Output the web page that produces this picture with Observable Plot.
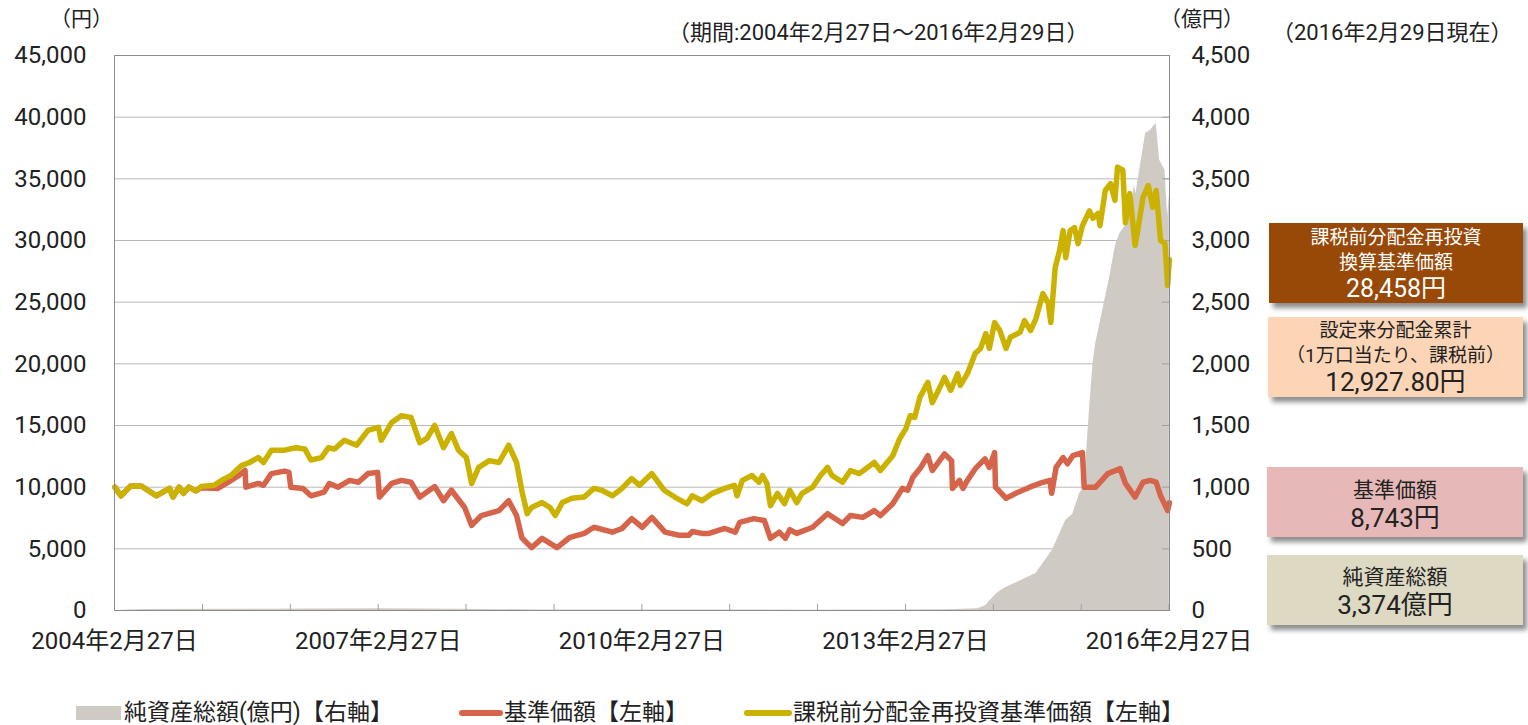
<!DOCTYPE html>
<html><head><meta charset="utf-8">
<script src="https://cdn.jsdelivr.net/npm/d3@7"></script>
<script src="https://cdn.jsdelivr.net/npm/@observablehq/plot@0.6"></script>
<style>
body{margin:0;background:#fff;}
#wrap{position:relative;width:1528px;height:725px;overflow:hidden;font-family:Roboto,"Noto Sans CJK JP",sans-serif;color:#222;}
.lbl{position:absolute;white-space:nowrap;line-height:1.2;transform:translateY(-50%);}
.box{position:absolute;text-align:center;box-shadow:4px 5px 5px rgba(0,0,0,0.45);}
.box div{white-space:nowrap;}
.leg{position:absolute;top:713px;transform:translateY(-50%);font-size:23px;white-space:nowrap;line-height:1.2;}
.sw{position:absolute;}
</style></head>
<body><div id="wrap"></div>
<script>
// 課税前分配金再投資基準価額 [decimal year, 円]
const reinvest = [[2004.16,10000],[2004.23,9300],[2004.34,10100],[2004.46,10100],[2004.63,9300],[2004.78,9900],[2004.82,9200],[2004.89,10000],[2004.94,9500],[2005.00,10000],[2005.08,9700],[2005.14,10050],[2005.29,10150],[2005.37,10550],[2005.48,10950],[2005.60,11750],[2005.69,12000],[2005.79,12400],[2005.85,12000],[2005.94,13000],[2006.09,13000],[2006.22,13200],[2006.32,13100],[2006.39,12200],[2006.51,12400],[2006.59,13200],[2006.66,13100],[2006.77,13800],[2006.91,13400],[2007.04,14600],[2007.16,14850],[2007.19,13800],[2007.31,15250],[2007.42,15800],[2007.53,15650],[2007.63,13600],[2007.71,13950],[2007.80,15000],[2007.90,13200],[2007.99,14350],[2008.07,13000],[2008.16,12400],[2008.22,10300],[2008.30,11600],[2008.42,12150],[2008.53,12000],[2008.64,13400],[2008.73,12000],[2008.79,9700],[2008.85,7850],[2008.90,8350],[2009.02,8750],[2009.11,8350],[2009.17,7700],[2009.25,8750],[2009.36,9100],[2009.50,9200],[2009.61,9900],[2009.70,9750],[2009.82,9300],[2009.93,9900],[2010.04,10700],[2010.13,10150],[2010.27,11100],[2010.41,9750],[2010.53,9200],[2010.67,8650],[2010.73,9300],[2010.84,8900],[2010.96,9500],[2011.10,9900],[2011.21,10150],[2011.24,9300],[2011.30,10550],[2011.41,10950],[2011.49,10400],[2011.53,10950],[2011.58,10300],[2011.62,8500],[2011.70,9500],[2011.78,8650],[2011.84,9750],[2011.92,8750],[2011.98,9500],[2012.10,10000],[2012.19,10950],[2012.27,11600],[2012.32,10950],[2012.44,10400],[2012.53,11350],[2012.63,11100],[2012.80,12000],[2012.87,11350],[2013.01,12550],[2013.09,13950],[2013.16,14750],[2013.21,15800],[2013.26,15650],[2013.32,17300],[2013.41,18500],[2013.46,16850],[2013.52,17700],[2013.60,18900],[2013.67,17850],[2013.75,19200],[2013.78,18250],[2013.86,19200],[2013.95,20850],[2014.01,21250],[2014.07,22450],[2014.11,21250],[2014.17,23350],[2014.23,22700],[2014.30,21250],[2014.35,22150],[2014.46,22550],[2014.51,23500],[2014.58,22700],[2014.64,23650],[2014.72,25700],[2014.78,24950],[2014.81,23350],[2014.86,27800],[2014.91,29200],[2014.95,30800],[2014.98,28600],[2015.03,30800],[2015.08,31050],[2015.12,29750],[2015.17,31200],[2015.25,32400],[2015.29,31800],[2015.35,32200],[2015.37,31200],[2015.43,34050],[2015.49,34600],[2015.54,33250],[2015.57,35950],[2015.63,35700],[2015.66,31450],[2015.71,33800],[2015.77,29600],[2015.80,30800],[2015.86,33500],[2015.92,34450],[2015.97,32700],[2016.01,34050],[2016.06,30000],[2016.11,29750],[2016.14,26350],[2016.16,28458]];
// 基準価額 [decimal year, 円]
const nav = [[2004.16,10000],[2004.23,9300],[2004.34,10100],[2004.46,10100],[2004.63,9300],[2004.78,9900],[2004.82,9200],[2004.89,10000],[2004.94,9500],[2005.00,10000],[2005.08,9700],[2005.14,9950],[2005.33,9900],[2005.45,10400],[2005.57,10950],[2005.64,11350],[2005.65,10000],[2005.79,10300],[2005.85,10150],[2005.94,11100],[2006.09,11300],[2006.14,11200],[2006.16,10000],[2006.30,9900],[2006.39,9300],[2006.54,9600],[2006.60,10300],[2006.70,10000],[2006.83,10550],[2006.93,10400],[2007.04,11100],[2007.15,11200],[2007.17,9200],[2007.31,10300],[2007.42,10550],[2007.53,10400],[2007.63,9200],[2007.80,10050],[2007.90,8900],[2007.99,9750],[2008.14,8350],[2008.22,6900],[2008.33,7700],[2008.53,8100],[2008.64,8900],[2008.73,7700],[2008.79,5900],[2008.90,5100],[2009.02,5850],[2009.19,5100],[2009.33,5900],[2009.50,6250],[2009.61,6750],[2009.82,6350],[2009.93,6650],[2010.04,7450],[2010.16,6750],[2010.27,7550],[2010.42,6350],[2010.58,6100],[2010.69,6100],[2010.73,6400],[2010.84,6250],[2010.92,6250],[2011.10,6650],[2011.22,6350],[2011.27,7150],[2011.43,7450],[2011.55,7300],[2011.62,5850],[2011.72,6350],[2011.79,5850],[2011.84,6550],[2011.92,6250],[2012.10,6750],[2012.27,7850],[2012.44,7050],[2012.53,7700],[2012.67,7550],[2012.80,8100],[2012.87,7700],[2013.01,8650],[2013.12,9900],[2013.18,9750],[2013.24,10800],[2013.33,11600],[2013.41,12550],[2013.46,11350],[2013.60,12700],[2013.68,12150],[2013.69,9900],[2013.77,10550],[2013.81,9900],[2013.86,10550],[2013.95,11500],[2014.06,12300],[2014.11,11600],[2014.17,12800],[2014.18,10000],[2014.30,9100],[2014.41,9500],[2014.57,10000],[2014.68,10300],[2014.80,10550],[2014.82,9500],[2014.87,11600],[2014.95,12400],[2015.00,11900],[2015.06,12550],[2015.17,12800],[2015.19,10000],[2015.32,10000],[2015.46,11100],[2015.60,11500],[2015.66,10300],[2015.77,9200],[2015.86,10400],[2015.94,10550],[2016.01,10400],[2016.06,9300],[2016.14,8100],[2016.16,8743]];
// 純資産総額 [decimal year, 億円]
const assets = [[2004.16,0],[2004.5,8],[2005.5,10],[2006.5,12],[2007.2,14],[2008.0,11],[2009.0,5],[2010.0,5],[2011.0,4],[2012.0,3],[2013.0,4],[2013.6,6],[2013.81,10],[2013.98,15],[2014.07,40],[2014.13,90],[2014.20,140],[2014.28,180],[2014.46,240],[2014.64,300],[2014.72,380],[2014.83,490],[2014.98,730],[2015.06,780],[2015.14,950],[2015.19,1000],[2015.25,1620],[2015.29,2000],[2015.32,2160],[2015.40,2430],[2015.48,2700],[2015.55,2970],[2015.60,3060],[2015.65,3110],[2015.71,3400],[2015.73,3200],[2015.76,3450],[2015.78,3380],[2015.84,3650],[2015.89,3870],[2015.94,3890],[2016.01,3950],[2016.05,3650],[2016.11,3570],[2016.14,3190],[2016.16,3374]];

const leftTicks = [0,5000,10000,15000,20000,25000,30000,35000,40000,45000];
const labelDates = ["2004-02-27","2007-02-27","2010-02-27","2013-02-27","2016-02-27"];
const yearTickDates = ["2005-02-27","2006-02-27","2007-02-27","2008-02-27","2009-02-27","2010-02-27","2011-02-27","2012-02-27","2013-02-27","2014-02-27","2015-02-27","2016-02-27"];
const xDomain = ["2004-02-27","2016-02-29"];

function yd(v){const y=Math.floor(v);const a=Date.UTC(y,0,1),b=Date.UTC(y+1,0,1);return new Date(a+(v-y)*(b-a));}
const toRows = arr => arr.map(([t,v]) => ({date: yd(t), v}));
const fmt = d3.format(",");
const jpDate = d => `${d.getUTCFullYear()}年${d.getUTCMonth()+1}月${d.getUTCDate()}日`;

const chart = Plot.plot({
  width: 1528, height: 725,
  marginLeft: 114, marginRight: 359, marginTop: 55, marginBottom: 115,
  style: {fontFamily: "Roboto, 'Noto Sans CJK JP', sans-serif", fontSize: "24px", color: "#222", background: "transparent"},
  x: {type: "utc", domain: xDomain.map(d => new Date(d))},
  y: {domain: [0, 45000]},
  marks: [
    Plot.ruleY(leftTicks.slice(1, -1), {stroke: "#b8b8b8", strokeWidth: 1}),
    Plot.areaY(toRows(assets), {x: "date", y: d => d.v * 10, fill: "#D0CAC5"}),
    Plot.tickY(leftTicks.slice(1, -1), {insetLeft: 1048, stroke: "#a0a0a0"}),
    Plot.tickX(yearTickDates.map(d => new Date(d)), {insetTop: 549, stroke: "#a0a0a0"}),
    Plot.line(toRows(nav), {x: "date", y: "v", stroke: "#D5644A", strokeWidth: 5.5, strokeLinejoin: "round", strokeLinecap: "round"}),
    Plot.line(toRows(reinvest), {x: "date", y: "v", stroke: "#CBB200", strokeWidth: 5.5, strokeLinejoin: "round", strokeLinecap: "round"}),
    Plot.frame({stroke: "#8c8c8c"}),
    Plot.axisY({anchor: "left", ticks: leftTicks, tickFormat: fmt, tickSize: 0, tickPadding: 28, label: null}),
    Plot.axisY({anchor: "right", ticks: leftTicks, tickFormat: d => fmt(d / 10), tickSize: 0, tickPadding: 22, label: null}),
    Plot.axisX({ticks: labelDates.map(d => new Date(d)), tickFormat: jpDate, tickSize: 0, tickPadding: 21, label: null})
  ]
});
const wrap = document.getElementById("wrap");
chart.style.position = "absolute"; chart.style.left = "0"; chart.style.top = "0";
wrap.appendChild(chart);

function add(html){wrap.insertAdjacentHTML("beforeend", html);}
add(`<div class="lbl" style="left:50px;top:20px;font-size:21px;">（円）</div>`);
add(`<div class="lbl" style="left:668px;top:33px;font-size:22px;">（期間:2004年2月27日～2016年2月29日）</div>`);
add(`<div class="lbl" style="left:1160px;top:20px;font-size:21px;">（億円）</div>`);
add(`<div class="lbl" style="left:1272px;top:33px;font-size:22px;">（2016年2月29日現在）</div>`);

add(`<div class="box" style="left:1269px;top:223px;width:254px;height:80px;background:#984807;color:#fff;">
<div style="padding-top:2px;font-size:19px;line-height:25px;">課税前分配金再投資</div>
<div style="font-size:19px;line-height:25px;">換算基準価額</div>
<div style="font-size:25px;line-height:28px;">28,458円</div></div>`);
add(`<div class="box" style="left:1268px;top:317px;width:255px;height:80px;background:#FBD5B5;">
<div style="padding-top:1px;font-size:19px;line-height:25px;">設定来分配金累計</div>
<div style="font-size:19px;line-height:25px;">（1万口当たり、課税前）</div>
<div style="font-size:26px;line-height:28px;">12,927.80円</div></div>`);
add(`<div class="box" style="left:1267px;top:467px;width:256px;height:70px;background:#E6B9B8;">
<div style="padding-top:9px;font-size:21px;line-height:28px;">基準価額</div>
<div style="font-size:26px;line-height:28px;">8,743円</div></div>`);
add(`<div class="box" style="left:1267px;top:555px;width:256px;height:70px;background:#DDD9C3;">
<div style="padding-top:8px;font-size:21px;line-height:28px;">純資産総額</div>
<div style="font-size:26px;line-height:28px;">3,374億円</div></div>`);

add(`<div class="sw" style="left:76px;top:706px;width:45px;height:14px;background:#D0CAC5;"></div>`);
add(`<div class="leg" style="left:124px;">純資産総額(億円)【右軸】</div>`);
add(`<div class="sw" style="left:459px;top:710px;width:44px;height:6px;border-radius:3px;background:#D5644A;"></div>`);
add(`<div class="leg" style="left:504px;">基準価額【左軸】</div>`);
add(`<div class="sw" style="left:744px;top:710px;width:48px;height:6px;border-radius:3px;background:#CBB200;"></div>`);
add(`<div class="leg" style="left:793px;">課税前分配金再投資基準価額【左軸】</div>`);
</script></body></html>
